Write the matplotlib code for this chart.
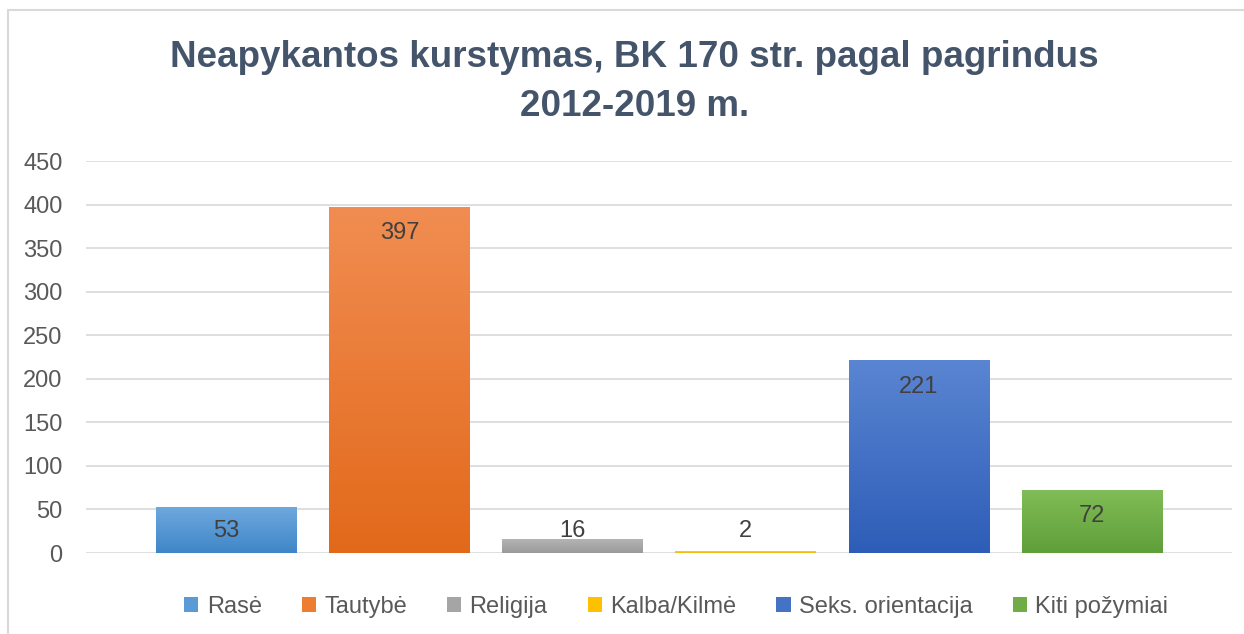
import numpy as np
import matplotlib.pyplot as plt
import matplotlib.colors as mcolors
from matplotlib.patches import Rectangle, Patch

# Duomenys
kategorijos = ["Rasė", "Tautybė", "Religija", "Kalba/Kilmė", "Seks. orientacija", "Kiti požymiai"]
reiksmes = [53, 397, 16, 2, 221, 72]
spalvos_virsus = ["#6FA9DE", "#F18D52", "#B4B4B4", "#FFCB3A", "#5A85D2", "#80BC57"]
spalvos_apacia = ["#3F86C8", "#E2691A", "#9A9A9A", "#F3B800", "#2E5DB8", "#5F9F38"]
legendos_spalvos = ["#5B9BD5", "#ED7D31", "#A5A5A5", "#FFC000", "#4472C4", "#70AD47"]

plt.rcParams['font.family'] = ['Liberation Sans', 'DejaVu Sans']

fig = plt.figure(figsize=(12.44, 6.34), dpi=100)
fig.patch.set_facecolor("white")

# rėmelis aplink diagramą
fig.patches.append(Rectangle((8 / 1244, -0.05), 1.1, 1 - 10 / 634 + 0.05,
                             transform=fig.transFigure, fill=False,
                             edgecolor="#D9D9D9", linewidth=1.5))

ax = fig.add_axes([86 / 1244, 81 / 634, (1232 - 86) / 1244, (553 - 161) / 634])

x = np.arange(len(kategorijos))
plotis = 0.81
bars = ax.bar(x, reiksmes, width=plotis, color=legendos_spalvos, zorder=2)

# gradientas stulpeliuose
for b, c1, c2 in zip(bars, spalvos_virsus, spalvos_apacia):
    cmap = mcolors.LinearSegmentedColormap.from_list("g", [c2, c1])
    grad = np.linspace(0, 1, 256).reshape(-1, 1)
    x0, y0 = b.get_x(), b.get_y()
    w, h = b.get_width(), b.get_height()
    im = ax.imshow(grad, cmap=cmap, origin="lower", aspect="auto",
                   extent=[x0, x0 + w, y0, y0 + h], zorder=3)
    im.set_clip_path(b)

for xi, v in zip(x, reiksmes):
    ax.text(xi, max(v - 30, 25), str(v), ha="center", va="center",
            fontsize=17, color="#404040", zorder=4)

ax.set_xlim(-0.81, 5.81)
ax.set_ylim(0, 450)
ax.set_yticks(range(0, 451, 50))
ax.set_xticks([])
ax.grid(axis="y", color="#D9D9D9", linewidth=1.2, zorder=0)
ax.set_axisbelow(True)
for s in ax.spines.values():
    s.set_visible(False)
ax.tick_params(axis="y", length=0, pad=17, labelsize=17, labelcolor="#595959")

fig.text(0.51, 0.871, "Neapykantos kurstymas, BK 170 str. pagal pagrindus\n2012-2019 m.",
         ha="center", va="center", fontsize=26.5, fontweight="bold",
         color="#44546A", linespacing=1.5)

handles = [Patch(facecolor=c) for c in legendos_spalvos]
fig.legend(handles, kategorijos, loc="center", bbox_to_anchor=(0.5436, 0.0426),
           ncol=6, frameon=False, fontsize=17, handlelength=0.6, handleheight=0.6,
           handletextpad=0.35, columnspacing=1.7, labelcolor="#595959")

fig.savefig("out.png", dpi=100)
